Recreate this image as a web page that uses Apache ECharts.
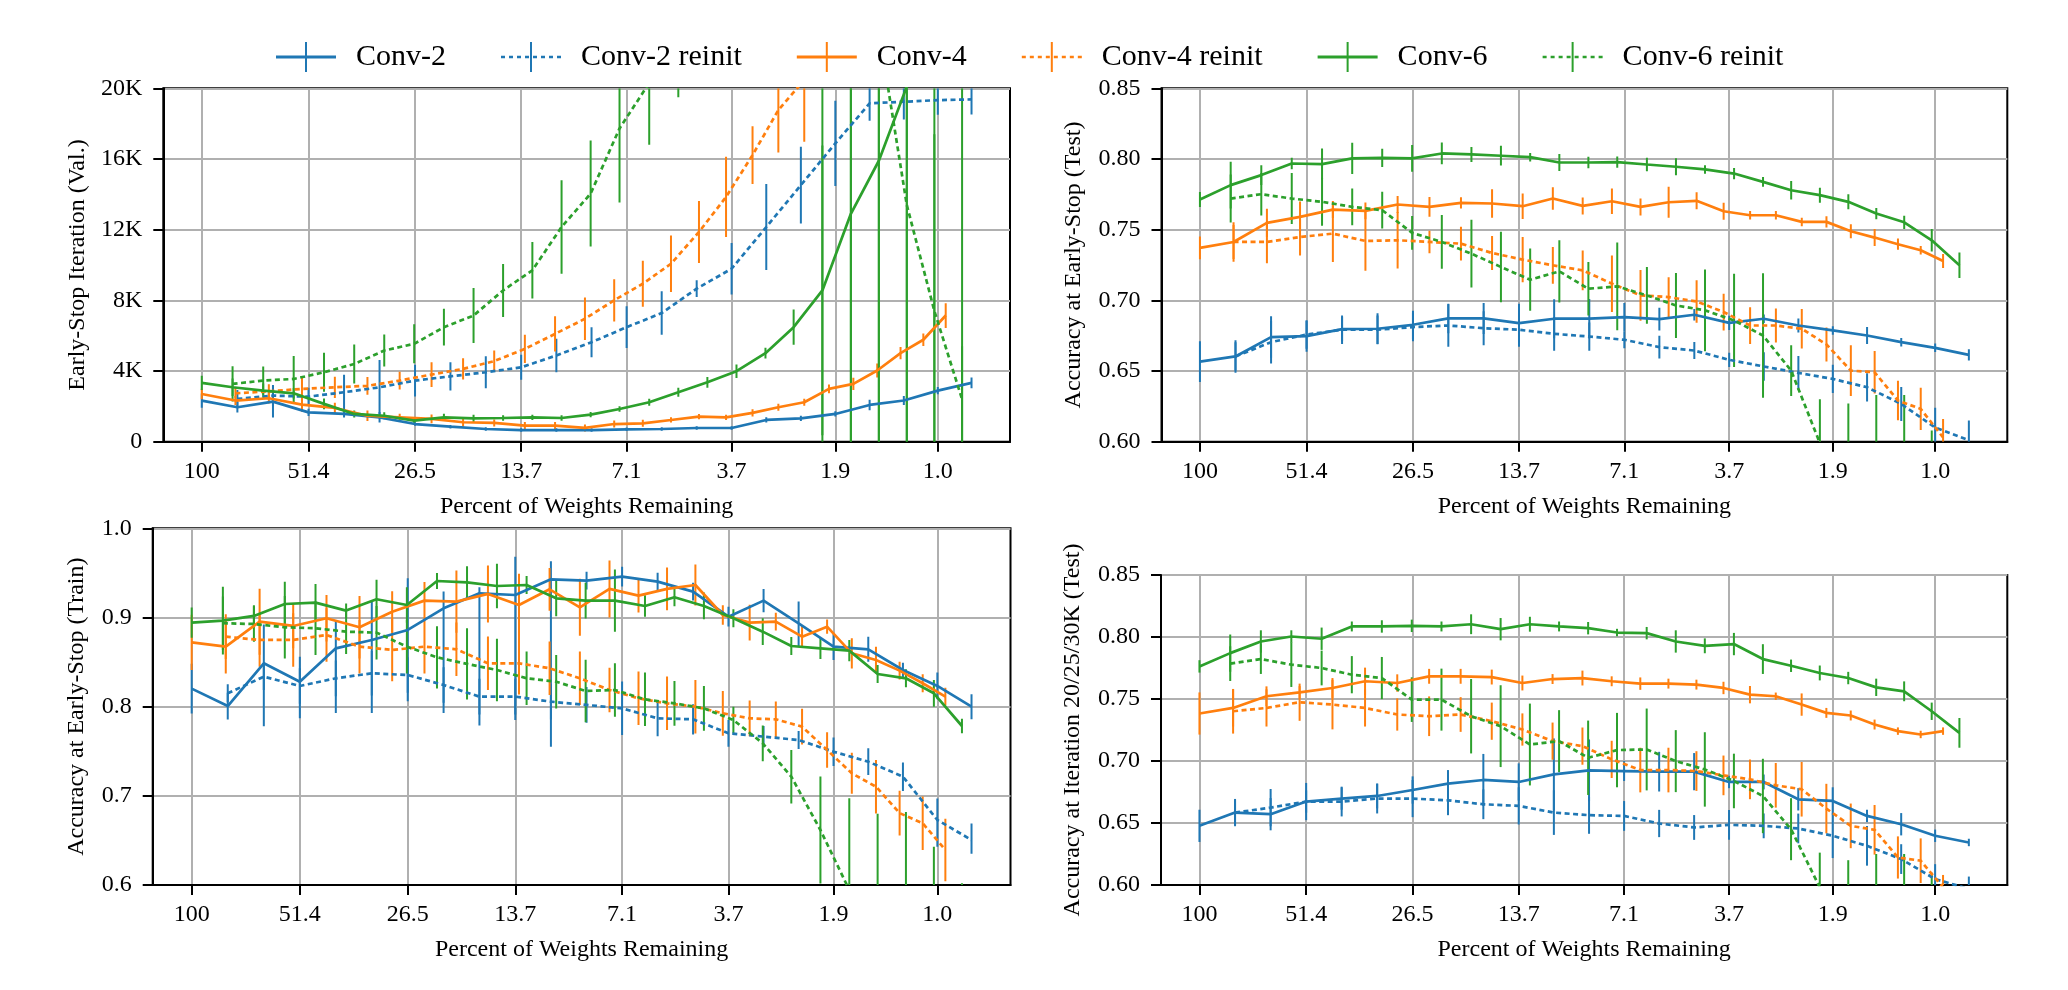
<!DOCTYPE html>
<html><head><meta charset="utf-8">
<script src="https://cdn.jsdelivr.net/npm/echarts@6/dist/echarts.min.js"></script>
<style>html,body{margin:0;padding:0;background:#fff}#c{width:2068px;height:990px}</style>
</head><body><div id="c"></div>
<script>
// ---------- data ----------
const seriesNames = ['Conv-2', 'Conv-2 reinit', 'Conv-4', 'Conv-4 reinit', 'Conv-6', 'Conv-6 reinit'];
const xTickValues = [100, 51.41, 26.47, 13.66, 7.08, 3.68, 1.928, 1.018];
const xTickLabels = ['100', '51.4', '26.5', '13.7', '7.1', '3.7', '1.9', '1.0'];
// percent of weights remaining at each pruning round
const pctConv2 = [100, 80.10, 64.16, 51.41, 41.20, 33.02, 26.47, 21.23, 17.03, 13.66, 10.97, 8.81, 7.08, 5.69, 4.575, 3.68, 2.965, 2.39, 1.928, 1.557, 1.258, 1.018, 0.825];
const pctConv4 = [100, 81.08, 65.84, 53.55, 43.63, 35.61, 29.13, 23.88, 19.62, 16.16, 13.35, 11.06, 9.18, 7.65, 6.40, 5.37, 4.51, 3.81, 3.23, 2.75, 2.34, 2.006, 1.723, 1.485, 1.284, 1.114, 0.969];
const pctConv6 = [100, 82.54, 68.19, 56.39, 46.68, 38.67, 32.07, 26.61, 22.11, 18.38, 15.29, 12.74, 10.62, 8.86, 7.40, 6.15, 5.13, 4.28, 3.57, 2.98, 2.50, 2.09, 1.75, 1.47, 1.235, 1.04, 0.875];

// Panel 1: Early-Stop Iteration (Val.)
const tlC2   = [2325, 1950, 2270, 1660, 1570, 1380, 1000, 850, 720, 660, 660, 660, 700, 720, 775, 775, 1230, 1320, 1570, 2080, 2330, 2890, 3330];
const tlC2e  = [400, 300, 900, 200, 200, 300, 100, 100, 100, 100, 100, 100, 100, 100, 100, 100, 150, 150, 150, 300, 250, 200, 300];
const tlC2r  = [null, 2420, 2610, 2550, 2800, 3080, 3460, 3700, 3930, 4210, 4880, 5630, 6480, 7280, 8660, 9790, 12150, 14520, 16880, 19150, 19240, 19330, 19370];
const tlC2re = [null, 500, 600, 500, 990, 1540, 900, 800, 900, 710, 950, 850, 1180, 1230, 470, 1460, 2430, 2170, 2410, 990, 1000, 830, 850];
const tlC4   = [2700, 2330, 2460, 2100, 1910, 1470, 1380, 1290, 1100, 1060, 910, 910, 780, 1000, 1040, 1230, 1420, 1380, 1630, 1950, 2230, 2990, 3270, 4030, 5010, 5770, 7140];
const tlC4e  = [300, 250, 300, 400, 300, 300, 200, 250, 250, 200, 200, 200, 200, 200, 200, 150, 150, 150, 200, 200, 200, 250, 350, 400, 350, 350, 700];
const tlC4r  = [null, 2740, 2850, 2990, 3080, 3160, 3460, 3800, 4120, 4560, 5250, 6100, 6960, 8000, 8940, 10070, 11870, 13850, 16220, 18770, 20470, 23000, 25000, 27000, 29000, 31000, 33000];
const tlC4re = [null, 300, 400, 700, 600, 500, 500, 700, 600, 600, 800, 1000, 1200, 1200, 1300, 1600, 1750, 2270, 1630, 2400, 3500, 1500, 1500, 1500, 1500, 1500, 1500];
const tlC6   = [3330, 3080, 2890, 2740, 2140, 1570, 1470, 1190, 1380, 1320, 1340, 1380, 1340, 1530, 1850, 2230, 2800, 3360, 3990, 5010, 6480, 8560, 12900, 15900, 20100, 25000, 28000];
const tlC6e  = [400, 500, 400, 300, 300, 200, 200, 200, 200, 200, 150, 150, 150, 150, 150, 200, 250, 300, 380, 300, 1000, 8200, 13000, 16000, 20100, 25000, 28000];
const tlC6r  = [null, 3270, 3460, 3550, 3930, 4400, 5160, 5540, 6480, 7140, 8560, 9700, 12150, 14040, 17730, 20300, 25000, 30000, 30000, 30000, 30000, 30000, 28000, 23300, 13400, 7400, 2400];
const tlC6re = [null, 1000, 800, 1300, 1100, 1100, 900, 1100, 1040, 1560, 1500, 1600, 2650, 3000, 4200, 3500, 5500, 3000, 3000, 3000, 3000, 30000, 30000, 25000, 15000, 10000, 3000];

// Panel 2: Accuracy at Early-Stop (Test)
const trC2   = [0.6567, 0.6603, 0.6740, 0.6747, 0.6796, 0.6799, 0.6827, 0.6872, 0.6872, 0.6839, 0.6870, 0.6870, 0.6881, 0.6867, 0.6898, 0.6841, 0.6870, 0.6822, 0.6787, 0.6751, 0.6704, 0.6664, 0.6614];
const trC2e  = [0.0144, 0.0115, 0.0147, 0.011, 0.0087, 0.011, 0.010, 0.0104, 0.011, 0.0136, 0.0138, 0.014, 0.010, 0.008, 0.004, 0.005, 0.003, 0.005, 0.003, 0.006, 0.003, 0.003, 0.004];
const trC2r  = [null, 0.6603, 0.6704, 0.6758, 0.6792, 0.6792, 0.6811, 0.6822, 0.6803, 0.6792, 0.6763, 0.6744, 0.6721, 0.6669, 0.6645, 0.6579, 0.6532, 0.6487, 0.6444, 0.6385, 0.6267, 0.6100, 0.6010];
const trC2re = [null, 0.010, 0.015, 0.010, 0.010, 0.010, 0.010, 0.015, 0.012, 0.012, 0.012, 0.010, 0.006, 0.008, 0.006, 0.005, 0.010, 0.012, 0.010, 0.010, 0.012, 0.014, [0.600, 0.615]];
const trC4   = [0.7371, 0.7413, 0.7548, 0.7590, 0.7642, 0.7633, 0.7678, 0.7661, 0.7690, 0.7685, 0.7666, 0.7720, 0.7668, 0.7701, 0.7661, 0.7694, 0.7704, 0.7630, 0.7602, 0.7602, 0.7555, 0.7555, 0.7489, 0.7444, 0.7397, 0.7354, 0.7278];
const trC4e  = [0.008, 0.012, 0.010, 0.011, 0.006, 0.006, 0.006, 0.007, 0.004, 0.010, 0.009, 0.008, 0.006, 0.009, 0.006, 0.011, 0.006, 0.006, 0.003, 0.003, 0.003, 0.004, 0.005, 0.006, 0.004, 0.003, 0.005];
const trC4r  = [null, 0.7413, 0.7413, 0.7448, 0.7472, 0.7420, 0.7425, 0.7413, 0.7401, 0.7335, 0.7288, 0.7248, 0.7212, 0.7118, 0.7035, 0.7023, 0.6992, 0.6917, 0.6822, 0.6822, 0.6799, 0.6688, 0.6503, 0.6491, 0.6291, 0.6232, 0.6030];
const trC4re = [null, 0.014, 0.015, 0.013, 0.020, 0.021, 0.020, 0.008, 0.012, 0.012, 0.016, 0.013, 0.014, 0.020, 0.018, 0.014, 0.015, 0.013, 0.013, 0.012, 0.014, 0.012, 0.018, 0.015, 0.014, 0.015, 0.013];
const trC6   = [0.7713, 0.7815, 0.7886, 0.7968, 0.7964, 0.8004, 0.8008, 0.8004, 0.8039, 0.8032, 0.8023, 0.8013, 0.7975, 0.7975, 0.7978, 0.7961, 0.7945, 0.7926, 0.7897, 0.7838, 0.7779, 0.7744, 0.7697, 0.7614, 0.7552, 0.7425, 0.7248];
const trC6e  = [0.0053, 0.0165, 0.007, 0.004, 0.011, 0.011, 0.0065, 0.0095, 0.0077, 0.0053, 0.007, 0.003, 0.006, 0.004, 0.004, 0.0047, 0.006, 0.003, 0.004, 0.0035, 0.0065, 0.0053, 0.0053, 0.004, 0.0047, 0.008, 0.009];
const trC6r  = [null, 0.7720, 0.7751, 0.7720, 0.7697, 0.7661, 0.7638, 0.7477, 0.7413, 0.7330, 0.7236, 0.7146, 0.7205, 0.7082, 0.7099, 0.7035, 0.6964, 0.6929, 0.6858, 0.6751, 0.6503, 0.5990, 0.45, 0.45, 0.45, 0.45, 0.45];
const trC6re = [null, 0.017, 0.015, 0.018, 0.017, 0.013, 0.013, 0.012, 0.019, 0.024, 0.025, 0.022, 0.022, 0.019, 0.031, 0.020, 0.023, 0.029, 0.033, 0.044, 0.018, 0.031, 0.177, 0.183, 0.183, 0.158, 0.1];

// Panel 3: Accuracy at Early-Stop (Train)
const blC2   = [0.8202, 0.8007, 0.8486, 0.8280, 0.8654, 0.8748, 0.8860, 0.9103, 0.9271, 0.9252, 0.9428, 0.9413, 0.9458, 0.9402, 0.9290, 0.9009, 0.9189, 0.8935, 0.8673, 0.8643, 0.8411, 0.8232, 0.8000];
const blC2e  = [0.028, 0.015, [0.778, 0.892], [0.787, 0.856], [0.793, 0.897], [0.793, 0.918], [0.806, 0.944], [0.793, 0.929], [0.779, 0.934], [0.785, 0.968], [0.755, 0.963], 0.010, 0.011, 0.010, 0.010, 0.011, 0.013, [0.867, 0.918], 0.015, 0.014, 0.008, 0.015, 0.014];
const blC2r  = [null, 0.8150, 0.8336, 0.8232, 0.8318, 0.8374, 0.8355, 0.8243, 0.8112, 0.8112, 0.8056, 0.8019, 0.7981, 0.7869, 0.7858, 0.7701, 0.7664, 0.7626, 0.7495, 0.7383, 0.7215, 0.6729, 0.6505];
const blC2re = [null, 0.010, 0.015, 0.020, 0.020, 0.025, 0.020, 0.020, 0.020, 0.020, 0.020, 0.020, 0.030, 0.020, 0.017, 0.015, 0.012, 0.010, 0.016, 0.015, 0.016, [0.643, 0.697], [0.635, 0.669]];
const blC4   = [0.8721, 0.8673, 0.8953, 0.8905, 0.8991, 0.8890, 0.9065, 0.9189, 0.9178, 0.9264, 0.9140, 0.9316, 0.9114, 0.9320, 0.9245, 0.9320, 0.9364, 0.9028, 0.8942, 0.8953, 0.8785, 0.8897, 0.8598, 0.8523, 0.8404, 0.8262, 0.8112];
const blC4e  = [0.031, 0.030, 0.037, 0.025, 0.026, 0.035, 0.023, 0.021, 0.035, 0.032, 0.035, 0.024, 0.032, 0.032, 0.019, 0.024, 0.023, 0.011, 0.020, 0.010, 0.012, 0.008, 0.017, 0.015, 0.010, 0.010, 0.010];
const blC4r  = [null, 0.8785, 0.8748, 0.8748, 0.8804, 0.8673, 0.8636, 0.8673, 0.8643, 0.8486, 0.8486, 0.8430, 0.8318, 0.8187, 0.8093, 0.8037, 0.8000, 0.7925, 0.7869, 0.7858, 0.7776, 0.7514, 0.7252, 0.7103, 0.6806, 0.6692, 0.6393];
const blC4re = [null, 0.025, 0.030, 0.030, 0.030, 0.030, 0.035, 0.030, 0.030, 0.030, 0.035, 0.030, 0.030, 0.025, 0.030, 0.030, 0.030, 0.025, 0.020, 0.020, 0.020, 0.020, 0.023, 0.030, 0.025, 0.030, 0.035];
const blC6   = [0.8942, 0.8965, 0.9017, 0.9151, 0.9166, 0.9077, 0.9204, 0.9140, 0.9409, 0.9394, 0.9353, 0.9364, 0.9215, 0.9189, 0.9189, 0.9129, 0.9226, 0.9129, 0.8991, 0.8841, 0.8680, 0.8654, 0.8628, 0.8366, 0.8318, 0.8150, 0.7783];
const blC6e  = [0.017, 0.038, 0.012, 0.025, 0.021, 0.008, 0.022, 0.020, 0.009, 0.018, 0.025, 0.010, 0.020, 0.020, 0.035, 0.012, 0.010, 0.015, 0.010, 0.015, 0.010, 0.012, 0.012, 0.010, 0.010, 0.015, 0.008];
const blC6r  = [null, 0.8935, 0.8927, 0.8890, 0.8879, 0.8841, 0.8830, 0.8673, 0.8553, 0.8479, 0.8411, 0.8318, 0.8280, 0.8176, 0.8187, 0.8082, 0.8037, 0.7981, 0.7850, 0.7589, 0.7215, 0.6617, 0.5944, 0.45, 0.45, 0.45, 0.45];
const blC6re = [null, 0.030, 0.020, 0.035, 0.030, 0.025, 0.030, 0.030, 0.035, 0.040, 0.035, 0.030, 0.030, 0.035, 0.030, 0.030, 0.025, 0.025, 0.015, 0.020, 0.030, 0.060, 0.103, 0.230, 0.232, 0.193, 0.152];

// Panel 4: Accuracy at Iteration 20/25/30K (Test)
const brC2   = [0.6477, 0.6584, 0.6571, 0.6673, 0.6697, 0.6718, 0.6766, 0.6817, 0.6847, 0.6831, 0.6892, 0.6924, 0.6919, 0.6914, 0.6914, 0.6831, 0.6831, 0.6691, 0.6678, 0.6557, 0.6490, 0.6397, 0.6343];
const brC2e  = [0.013, 0.011, 0.013, 0.009, 0.009, 0.010, 0.011, 0.011, 0.021, 0.015, 0.029, 0.025, 0.008, 0.016, 0.015, 0.005, 0.006, 0.009, 0.011, 0.005, 0.009, 0.005, 0.003];
const brC2r  = [null, 0.6584, 0.6624, 0.6673, 0.6673, 0.6697, 0.6697, 0.6683, 0.6651, 0.6638, 0.6584, 0.6563, 0.6557, 0.6496, 0.6464, 0.6485, 0.6477, 0.6456, 0.6397, 0.6316, 0.6209, 0.6048, 0.5968];
const brC2re = [null, 0.010, 0.015, 0.015, 0.012, 0.012, 0.015, 0.012, 0.012, 0.015, 0.018, 0.015, 0.012, 0.011, 0.010, 0.012, 0.010, 0.012, 0.018, 0.016, 0.012, 0.012, 0.010];
const brC4   = [0.7383, 0.7428, 0.7522, 0.7554, 0.7589, 0.7643, 0.7629, 0.7683, 0.7683, 0.7677, 0.7629, 0.7661, 0.7669, 0.7643, 0.7624, 0.7624, 0.7616, 0.7589, 0.7535, 0.7522, 0.7455, 0.7388, 0.7367, 0.7294, 0.7241, 0.7214, 0.7241];
const brC4e  = [0.017, 0.015, 0.008, 0.005, 0.008, 0.011, 0.007, 0.006, 0.006, 0.006, 0.006, 0.004, 0.006, 0.004, 0.005, 0.004, 0.004, 0.005, 0.007, 0.003, 0.009, 0.004, 0.004, 0.004, 0.003, 0.003, 0.003];
const brC4r  = [null, 0.7401, 0.7428, 0.7474, 0.7455, 0.7428, 0.7375, 0.7361, 0.7375, 0.7321, 0.7254, 0.7160, 0.7120, 0.7013, 0.6927, 0.6927, 0.6919, 0.6884, 0.6852, 0.6804, 0.6772, 0.6616, 0.6477, 0.6445, 0.6222, 0.6196, 0.5981];
const brC4re = [null, 0.018, 0.015, 0.015, 0.020, 0.015, 0.013, 0.016, 0.014, 0.015, 0.013, 0.015, 0.015, 0.015, 0.018, 0.018, 0.016, 0.016, 0.016, 0.018, 0.022, 0.020, 0.018, 0.020, 0.017, 0.018, 0.010];
const brC6   = [0.7763, 0.7870, 0.7964, 0.8004, 0.7986, 0.8085, 0.8085, 0.8090, 0.8085, 0.8103, 0.8063, 0.8103, 0.8085, 0.8071, 0.8036, 0.8031, 0.7964, 0.7929, 0.7943, 0.7822, 0.7768, 0.7710, 0.7669, 0.7594, 0.7562, 0.7401, 0.7227];
const brC6e  = [0.005, 0.015, 0.009, 0.005, 0.009, 0.004, 0.005, 0.005, 0.004, 0.008, 0.009, 0.006, 0.004, 0.005, 0.003, 0.005, 0.009, 0.006, 0.009, 0.012, 0.005, 0.006, 0.005, 0.007, 0.008, 0.007, 0.012];
const brC6r  = [null, 0.7785, 0.7822, 0.7777, 0.7750, 0.7696, 0.7669, 0.7495, 0.7495, 0.7361, 0.7281, 0.7133, 0.7160, 0.7026, 0.7088, 0.7093, 0.6999, 0.6932, 0.6839, 0.6718, 0.6450, 0.5981, 0.45, 0.45, 0.45, 0.45, 0.45];
const brC6re = [null, 0.014, 0.012, 0.018, 0.014, 0.015, 0.017, 0.018, 0.025, 0.030, 0.033, 0.033, 0.025, 0.030, 0.030, 0.033, 0.025, 0.030, 0.022, 0.030, 0.025, 0.028, 0.170, 0.175, 0.175, 0.160, 0.100];

// ---------- styling / layout ----------
const FONT = 'Liberation Serif';
const COLORS = ['#1f77b4', '#1f77b4', '#ff7f0e', '#ff7f0e', '#2ca02c', '#2ca02c'];
const pctFor = [pctConv2, pctConv2, pctConv4, pctConv4, pctConv6, pctConv6];

const panels = [
  { grid: {left: 163.3, top: 88.3, width: 846.7, height: 353.4}, yName: 'Early-Stop Iteration (Val.)', yGap: 74,
    ymin: 0, ymax: 20000, yint: 4000, yfmt: v => v === 0 ? '0' : Math.round(v / 1000) + 'K',
    vals: [tlC2, tlC2r, tlC4, tlC4r, tlC6, tlC6r], errs: [tlC2e, tlC2re, tlC4e, tlC4re, tlC6e, tlC6re] },
  { grid: {left: 1161.5, top: 88.3, width: 845.8, height: 353.4}, yName: 'Accuracy at Early-Stop (Test)', yGap: 76,
    ymin: 0.60, ymax: 0.85, yint: 0.05, yfmt: v => v.toFixed(2),
    vals: [trC2, trC2r, trC4, trC4r, trC6, trC6r], errs: [trC2e, trC2re, trC4e, trC4re, trC6e, trC6re] },
  { grid: {left: 152.7, top: 528.3, width: 857.8, height: 356.7}, yName: 'Accuracy at Early-Stop (Train)', yGap: 64,
    ymin: 0.6, ymax: 1.0, yint: 0.1, yfmt: v => v.toFixed(1),
    vals: [blC2, blC2r, blC4, blC4r, blC6, blC6r], errs: [blC2e, blC2re, blC4e, blC4re, blC6e, blC6re] },
  { grid: {left: 1161, top: 575, width: 846.3, height: 310}, yName: 'Accuracy at Iteration 20/25/30K (Test)', yGap: 76,
    ymin: 0.60, ymax: 0.85, yint: 0.05, yfmt: v => v.toFixed(2),
    vals: [brC2, brC2r, brC4, brC4r, brC6, brC6r], errs: [brC2e, brC2re, brC4e, brC4re, brC6e, brC6re] }
];

function xLabel(v) {
  let best = 0, bd = Infinity;
  xTickValues.forEach((t, i) => { const d = Math.abs(Math.log(t) - Math.log(v)); if (d < bd) { bd = d; best = i; } });
  return xTickLabels[best];
}

const grids = [], xAxes = [], yAxes = [], series = [];
panels.forEach((p, gi) => {
  grids.push(Object.assign({show: true, borderColor: '#000', borderWidth: 2, backgroundColor: 'transparent', containLabel: false}, p.grid));
  xAxes.push({
    type: 'log', logBase: 10, gridIndex: gi, min: 0.6491, max: 127.1, inverse: true,
    name: 'Percent of Weights Remaining', nameLocation: 'middle', nameGap: 53,
    nameTextStyle: {fontFamily: FONT, fontSize: 24, color: '#000'},
    axisLine: {show: true, onZero: false, lineStyle: {color: '#000', width: 2}},
    axisTick: {show: true, customValues: xTickValues, length: 10, lineStyle: {color: '#000', width: 2}},
    axisLabel: {show: true, customValues: xTickValues, formatter: xLabel, fontFamily: FONT, fontSize: 24, color: '#000', margin: 18},
    splitLine: {show: true, lineStyle: {color: '#b0b0b0', width: 2}},
    minorTick: {show: false}, minorSplitLine: {show: false}
  });
  yAxes.push({
    type: 'value', gridIndex: gi, min: p.ymin, max: p.ymax, interval: p.yint,
    name: p.yName, nameLocation: 'middle', nameGap: p.yGap,
    nameTextStyle: {fontFamily: FONT, fontSize: 24, color: '#000'},
    axisLine: {show: true, lineStyle: {color: '#000', width: 2}},
    axisTick: {show: true, length: 10, lineStyle: {color: '#000', width: 2}},
    axisLabel: {formatter: p.yfmt, fontFamily: FONT, fontSize: 24, color: '#000', margin: 21},
    splitLine: {show: true, lineStyle: {color: '#b0b0b0', width: 2}}
  });
  seriesNames.forEach((name, si) => {
    const pct = pctFor[si], vals = p.vals[si], errs = p.errs[si], color = COLORS[si];
    const dashed = si % 2 === 1;
    const lineData = [], errData = [];
    vals.forEach((v, i) => {
      if (v === null) return;
      lineData.push([pct[i], v]);
      const e = errs[i];
      const lo = Array.isArray(e) ? e[0] : v - e;
      const hi = Array.isArray(e) ? e[1] : v + e;
      errData.push([pct[i], lo, hi]);
    });
    series.push({
      type: 'line', name, xAxisIndex: gi, yAxisIndex: gi, data: lineData,
      symbol: 'none', showSymbol: false, clip: true, animation: false, silent: true,
      lineStyle: {color, width: 2.7, type: dashed ? [5, 3.5] : 'solid', cap: 'butt'},
      itemStyle: {color}, emphasis: {disabled: true}
    });
    series.push({
      type: 'custom', name: name + ' errorbar', xAxisIndex: gi, yAxisIndex: gi, data: errData,
      encode: {x: 0, y: [1, 2]}, animation: false, silent: true, clip: true,
      renderItem: (params, api) => {
        const x = api.value(0), lo = api.value(1), hi = api.value(2);
        const a = api.coord([x, lo]), b = api.coord([x, hi]);
        const cs = params.coordSys;
        const top = cs.y, bot = cs.y + cs.height;
        const y1 = Math.min(Math.max(a[1], top), bot), y2 = Math.min(Math.max(b[1], top), bot);
        if (Math.abs(y1 - y2) < 0.01) return null;
        return {type: 'line', shape: {x1: a[0], y1, x2: a[0], y2}, style: {stroke: color, lineWidth: 2}};
      }
    });
  });
});

function solidIcon() {
  return 'path://M0,13.6L60,13.6L60,16.4L0,16.4Z M29,0L31,0L31,30L29,30Z';
}
function dashedIcon() {
  let d = '';
  for (let i = 0; i < 8; i++) { const x0 = i * 8, x1 = x0 + 4; d += `M${x0},13.7L${x1},13.7L${x1},16.3L${x0},16.3Z `; }
  d += 'M29,0L31,0L31,30L29,30Z';
  return 'path://' + d;
}

const option = {
  backgroundColor: '#fff',
  animation: false,
  textStyle: {fontFamily: FONT},
  legend: {
    left: 271, top: 37, itemWidth: 60, itemHeight: 30, itemGap: 55, selectedMode: false,
    textStyle: {fontFamily: FONT, fontSize: 30, color: '#000', padding: [0, 0, 0, 15]},
    data: seriesNames.map((n, i) => ({name: n, icon: i % 2 === 1 ? dashedIcon() : solidIcon(), itemStyle: {color: COLORS[i]}}))
  },
  grid: grids, xAxis: xAxes, yAxis: yAxes, series
};

const chart = echarts.init(document.getElementById('c'), null, {renderer: 'canvas'});
chart.setOption(option);
</script></body></html>
